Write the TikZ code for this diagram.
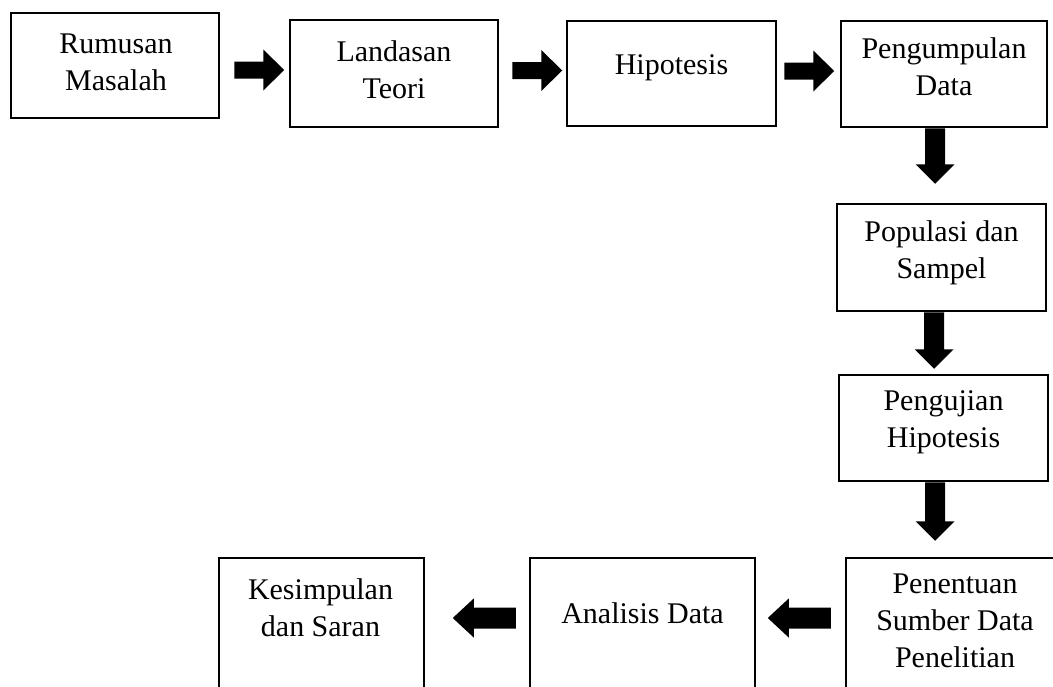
\documentclass[tikz,border=0pt]{standalone}
\usepackage{fontspec}
\setmainfont{Liberation Serif}
\usetikzlibrary{calc}
\tikzset{
  box/.style={draw=black, line width=2.5pt, inner sep=0pt, minimum width=208pt, minimum height=106pt},
  txt/.style={align=center, inner sep=0pt, font=\fontsize{30}{37}\selectfont},
  pics/rarrow/.style={code={\fill[black] (0,-8.5) -- (#1,-8.5) -- (#1,-20.5) -- (#1+21,0) -- (#1,20.5) -- (#1,8.5) -- (0,8.5) -- cycle;}},
  pics/darrow/.style={code={\fill[black] (-10,0) -- (-10,#1) -- (-19.5,#1) -- (0,#1+19.5) -- (19.5,#1) -- (10,#1) -- (10,0) -- cycle;}},
  pics/larrow/.style={code={\fill[black] (0,-10.5) -- (-#1,-10.5) -- (-#1,-19.5) -- (-#1-21,0) -- (-#1,19.5) -- (-#1,10.5) -- (0,10.5) -- cycle;}}
}
\begin{document}
\begin{tikzpicture}[x=1pt,y=-1pt]
\useasboundingbox (0,0) rectangle (1053,686);
\fill[white] (0,0) rectangle (1053,686);
\clip (0,0) rectangle (1053,686);
% boxes
\node[box, minimum height=105pt] (rm) at (115,65.5) {};
\node[box, minimum height=107pt] (lt) at (394,73.5) {};
\node[box, minimum width=209pt, minimum height=105pt] (hp) at (671.5,73.5) {};
\node[box, minimum width=206pt] (pd) at (944,74) {};
\node[box, minimum width=209pt, minimum height=107pt] (ps) at (941.5,257.5) {};
\node[box, minimum width=209pt] (ph) at (943.5,428) {};
\node[box, minimum width=218pt, minimum height=160pt] (pn) at (955,638) {};
\node[box, minimum width=225pt, minimum height=160pt] (ad) at (642.5,638) {};
\node[box, minimum width=205pt, minimum height=160pt] (ks) at (321.5,638) {};
% texts
\node[txt] (rmt) at ($(rm)+(1,-3)$) {Rumusan\\Masalah};
\node[txt] (ltt) at ($(lt)+(0,-3.5)$) {Landasan\\Teori};
\node[txt] (hpt) at ($(hp)+(0,-6)$) {Hipotesis};
\node[txt] (pdt) at ($(pd)+(0,-7)$) {Pengumpulan\\Data};
\node[txt] (pst) at ($(ps)+(0,-4.5)$) {Populasi dan\\Sampel};
\node[txt] (pht) at ($(ph)+(0,-6)$) {Pengujian\\Hipotesis};
\node[txt] (pnt) at ($(pn.north)+(0,64)$) {Penentuan\\Sumber Data\\Penelitian};
\node[txt] (adt) at ($(ad.north)+(0,56)$) {Analisis Data};
\node[txt] (kst) at ($(ks.north)+(-1,51)$) {Kesimpulan\\dan Saran};
% block arrows
\pic at ($(rm.east)+(14,4.5)$) {rarrow=29};
\pic at ($(lt.east)+(13,-3)$) {rarrow=29};
\pic at ($(hp.east)+(7,-2.5)$) {rarrow=29};
\pic at ($(pd.south)+(-9,0)$) {darrow=36};
\pic at ($(ps.south)+(-7.5,0)$) {darrow=37};
\pic at ($(ph.south)+(-8.5,0)$) {darrow=39};
\pic at ($(pn.west)+(-14,-20)$) {larrow=42};
\pic at ($(ad.west)+(-13,-20)$) {larrow=42};
\end{tikzpicture}
\end{document}
